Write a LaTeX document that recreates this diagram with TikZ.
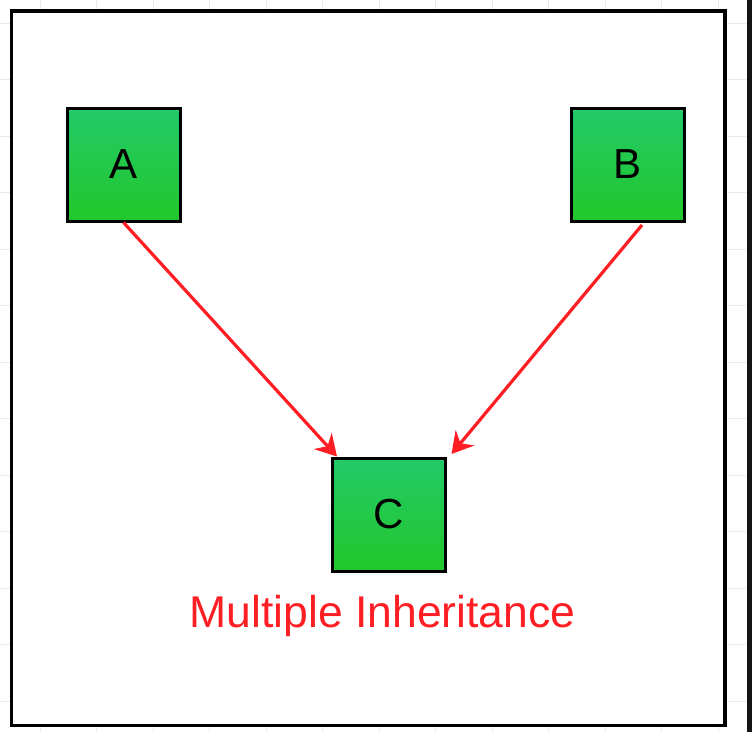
\documentclass[tikz,border=0pt]{standalone}
\usepackage{fontspec}
\setmainfont{Liberation Sans}
\usetikzlibrary{arrows.meta}
\definecolor{boxtop}{RGB}{34,201,104}
\definecolor{boxbot}{RGB}{34,200,42}
\definecolor{inhred}{RGB}{255,30,35}
\definecolor{gridline}{RGB}{234,234,234}
\definecolor{shotedge}{RGB}{20,20,22}
\begin{document}
\begin{tikzpicture}[x=1pt, y=-1pt,
    cls/.style={draw, rectangle, line width=3pt, minimum width=113pt, minimum height=113pt, top color=boxtop, bottom color=boxbot, font=\fontsize{42}{48}\selectfont},
    inherit/.style={-{Stealth[length=21pt, width=24pt, inset=7pt]}, draw=inhred, line width=3.2pt}]
        \useasboundingbox (0,0) rectangle (752,732);
        \fill[white] (0,0) rectangle (752,732);
        \foreach \gx in {40,96.5,...,740} \draw[gridline] (\gx,0) -- (\gx,732);
        \foreach \gy in {23,79.5,...,732} \draw[gridline] (0,\gy) -- (752,\gy);
        \draw[line width=3.5pt, fill=white] (11.5,11) rectangle (725,725.5);
        \fill[shotedge] (747,0) rectangle (752,732);

        \node[cls] (A) at (123.5,164.5) {A};
        \node[cls] (B) at (627.5,164.5) {B};
        \node[cls] (C) at (389,514.5) {C};
        \node[anchor=base, text=inhred, font=\fontsize{44.5}{52}\selectfont] (title) at (382.5,627) {Multiple Inheritance};

        \draw[inherit] (A.south) -- ([xshift=6pt]C.north west);
        \draw[inherit] ([xshift=14.5pt, yshift=-2.5pt]B.south) -- ([xshift=4.5pt, yshift=2.5pt]C.north east);
    \end{tikzpicture}
\end{document}
